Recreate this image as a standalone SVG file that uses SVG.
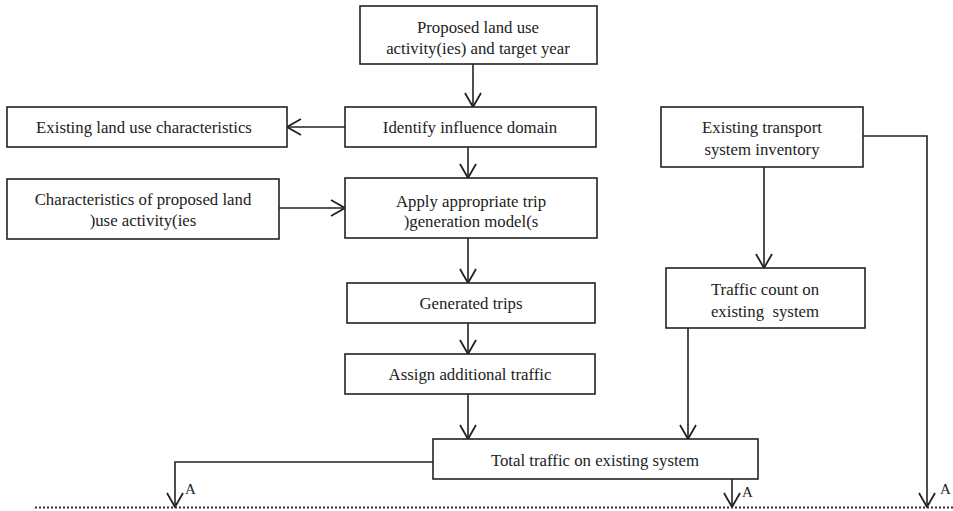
<svg xmlns="http://www.w3.org/2000/svg" width="953" height="511" viewBox="0 0 953 511">
<style>
.box{fill:#fff;stroke:#222;stroke-width:1.6}
.t{font-family:"Liberation Serif","Times New Roman",serif;font-size:16.8px;fill:#222;text-anchor:middle}
.lbl{font-family:"Liberation Serif","Times New Roman",serif;font-size:15px;fill:#222}
.c{fill:none;stroke:#222;stroke-width:1.6}
.dot{fill:none;stroke:#333;stroke-width:2;stroke-dasharray:2 2}
</style>
<defs>
<marker id="ah" viewBox="0 0 16 20" refX="15" refY="10" markerWidth="16" markerHeight="20" markerUnits="userSpaceOnUse" orient="auto">
<path d="M1,2 L15,10 L1,18" fill="none" stroke="#222" stroke-width="1.8"/>
</marker>
</defs>
<rect width="953" height="511" fill="#fff"/>
<g id="connectors">
<line class="c" x1="473" y1="64" x2="473" y2="107" marker-end="url(#ah)"/>
<line class="c" x1="345" y1="127" x2="287" y2="127" marker-end="url(#ah)"/>
<line class="c" x1="279" y1="208" x2="345" y2="208" marker-end="url(#ah)"/>
<line class="c" x1="468" y1="147" x2="468" y2="178" marker-end="url(#ah)"/>
<line class="c" x1="468" y1="238" x2="468" y2="283" marker-end="url(#ah)"/>
<line class="c" x1="468" y1="323" x2="468" y2="354" marker-end="url(#ah)"/>
<line class="c" x1="468" y1="394" x2="468" y2="439" marker-end="url(#ah)"/>
<line class="c" x1="764" y1="167" x2="764" y2="268" marker-end="url(#ah)"/>
<line class="c" x1="688" y1="328" x2="688" y2="439" marker-end="url(#ah)"/>
<polyline class="c" points="863,136 927,136 927,507" marker-end="url(#ah)"/>
<polyline class="c" points="433,462 175,462 175,507" marker-end="url(#ah)"/>
<line class="c" x1="732" y1="479" x2="732" y2="507" marker-end="url(#ah)"/>
<line class="dot" x1="35" y1="507.5" x2="953" y2="507.5"/>
<text class="lbl" x="185" y="494">A</text>
<text class="lbl" x="742" y="497">A</text>
<text class="lbl" x="940" y="494">A</text>
</g>
<g id="n_proposed">
<rect class="box" x="360" y="6" width="237" height="58"/>
<text class="t" x="478" y="33">Proposed land use</text>
<text class="t" x="478" y="54">activity(ies) and target year</text>
</g>
<g id="n_identify">
<rect class="box" x="345" y="107" width="251" height="40"/>
<text class="t" x="470" y="132.5">Identify influence domain</text>
</g>
<g id="n_existing_land">
<rect class="box" x="7" y="107" width="280" height="40"/>
<text class="t" x="144" y="132.5">Existing land use characteristics</text>
</g>
<g id="n_characteristics">
<rect class="box" x="7" y="179" width="272" height="60"/>
<text class="t" x="143" y="205">Characteristics of proposed land</text>
<text class="t" x="143" y="226">)use activity(ies</text>
</g>
<g id="n_apply">
<rect class="box" x="345" y="178" width="252" height="60"/>
<text class="t" x="471" y="207">Apply appropriate trip</text>
<text class="t" x="471" y="227">)generation model(s</text>
</g>
<g id="n_generated">
<rect class="box" x="347" y="283" width="248" height="40"/>
<text class="t" x="471" y="309">Generated trips</text>
</g>
<g id="n_assign">
<rect class="box" x="345" y="354" width="250" height="40"/>
<text class="t" x="470" y="380">Assign additional traffic</text>
</g>
<g id="n_total">
<rect class="box" x="433" y="439" width="325" height="40"/>
<text class="t" x="595" y="466">Total traffic on existing system</text>
</g>
<g id="n_inventory">
<rect class="box" x="661" y="107" width="202" height="60"/>
<text class="t" x="762" y="133">Existing transport</text>
<text class="t" x="762" y="155">system inventory</text>
</g>
<g id="n_count">
<rect class="box" x="666" y="268" width="199" height="60"/>
<text class="t" x="765" y="295">Traffic count on</text>
<text class="t" x="765" y="317" xml:space="preserve">existing  system</text>
</g>
</svg>
